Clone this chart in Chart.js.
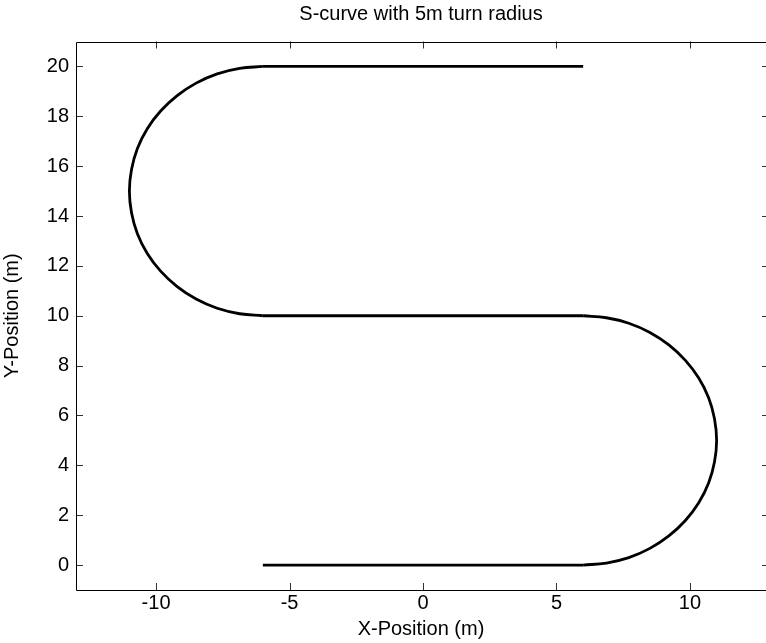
<!DOCTYPE html>
<html>
<head>
<meta charset="utf-8">
<script src="https://cdn.jsdelivr.net/npm/chart.js@4.4.1/dist/chart.umd.min.js"></script>
<style>
  html, body { margin: 0; padding: 0; overflow: hidden; background: #fff; }
  canvas { display: block; }
</style>
</head>
<body>
<canvas id="path" width="766" height="643"></canvas>
<script>
const xTicks = [-10, -5, 0, 5, 10]
const yTicks = [0, 2, 4, 6, 8, 10, 12, 14, 16, 18, 20]

// legs of the vehicle path, in driving order
const leg1X = [-6, 6]
const leg1Y = [0, 0]
const turn1X = [6, 6.87, 7.71, 8.50, 9.21, 9.83, 10.33, 10.70, 10.92, 11,
  10.92, 10.70, 10.33, 9.83, 9.21, 8.50, 7.71, 6.87, 6]
const turn1Y = [0, 0.08, 0.30, 0.67, 1.17, 1.79, 2.50, 3.29, 4.13, 5,
  5.87, 6.71, 7.50, 8.21, 8.83, 9.33, 9.70, 9.92, 10]
const leg2X = [6, -6]
const leg2Y = [10, 10]
const turn2X = [-6, -6.87, -7.71, -8.50, -9.21, -9.83, -10.33, -10.70, -10.92, -11,
  -10.92, -10.70, -10.33, -9.83, -9.21, -8.50, -7.71, -6.87, -6]
const turn2Y = [10, 10.08, 10.30, 10.67, 11.17, 11.79, 12.50, 13.29, 14.13, 15,
  15.87, 16.71, 17.50, 18.21, 18.83, 19.33, 19.70, 19.92, 20]
const leg3X = [-6, 6]
const leg3Y = [20, 20]

const fontFamily = "'Liberation Sans', Arial, Helvetica, sans-serif"
const fontSize = 20
Chart.defaults.color = "#000"
Chart.defaults.font.family = fontFamily
Chart.defaults.font.size = fontSize

// axes box (right side sits just past the canvas edge) with inward ticks
const frameAndTicks = {
  id: "frameAndTicks",
  afterDatasetsDraw(chart) {
    const { ctx, chartArea: a, scales: { x, y } } = chart
    const len = 7
    const rightEdge = x.getPixelForValue(13)
    ctx.save()
    ctx.lineWidth = 1
    ctx.strokeStyle = "#333"
    ctx.beginPath()
    xTicks.forEach(v => {
      const px = Math.round(x.getPixelForValue(v)) + 0.5
      ctx.moveTo(px, a.bottom); ctx.lineTo(px, a.bottom - len)
      ctx.moveTo(px, a.top); ctx.lineTo(px, a.top + len)
    })
    yTicks.forEach(v => {
      const py = Math.round(y.getPixelForValue(v)) + 0.5
      ctx.moveTo(a.left, py); ctx.lineTo(a.left + len, py)
      ctx.moveTo(rightEdge, py); ctx.lineTo(rightEdge - len - 1, py)
    })
    ctx.stroke()
    ctx.strokeStyle = "#000"
    const l = Math.round(a.left) + 0.5
    const t = Math.round(a.top) + 0.5
    const b = Math.round(a.bottom) + 0.5
    ctx.beginPath()
    ctx.moveTo(a.right + 1, t); ctx.lineTo(l, t); ctx.lineTo(l, b); ctx.lineTo(a.right + 1, b)
    ctx.stroke()
    ctx.restore()
  },
}

const pathStyle = {
  showLine: true,
  borderColor: "#000",
  borderWidth: 2.8,
  pointRadius: 0,
  borderJoinStyle: "round",
}
const leg = (xs, ys, tension) => ({
  ...pathStyle,
  tension: tension,
  data: xs.map((x, i) => ({ x: x, y: ys[i] })),
})

new Chart(document.getElementById("path"), {
  type: "scatter",
  data: {
    datasets: [
      leg(leg1X, leg1Y, 0),
      leg(turn1X, turn1Y, 0.4),
      leg(leg2X, leg2Y, 0),
      leg(turn2X, turn2Y, 0.4),
      leg(leg3X, leg3Y, 0),
    ],
  },
  options: {
    responsive: false,
    animation: false,
    layout: { padding: { left: 0, right: 0, top: 0, bottom: 0 } },
    plugins: {
      legend: { display: false },
      tooltip: { enabled: false },
      title: {
        display: true,
        text: "S-curve with 5m turn radius",
        fullSize: false,
        color: "#000",
        font: { size: fontSize, weight: "normal" },
        padding: { top: 2, bottom: 15.5 },
      },
    },
    scales: {
      x: {
        type: "linear",
        min: -13,
        max: 12.85,
        afterBuildTicks: s => { s.ticks = xTicks.map(v => ({ value: v })) },
        afterFit: s => { s.height = 53 },
        ticks: { padding: 1, color: "#000", callback: v => String(v) },
        grid: { display: false, drawTicks: false },
        border: { display: false },
        title: {
          display: true,
          text: "X-Position (m)",
          color: "#000",
          padding: { top: 0, bottom: 2 },
        },
      },
      y: {
        type: "linear",
        min: -1,
        max: 21,
        afterBuildTicks: s => { s.ticks = yTicks.map(v => ({ value: v })) },
        afterFit: s => { s.width = 76 },
        ticks: { padding: 7, color: "#000", callback: v => String(v) },
        grid: { display: false, drawTicks: false },
        border: { display: false },
        title: {
          display: true,
          text: "Y-Position (m)",
          color: "#000",
          padding: { top: 0, bottom: 0 },
        },
      },
    },
  },
  plugins: [frameAndTicks],
})
</script>
</body>
</html>
